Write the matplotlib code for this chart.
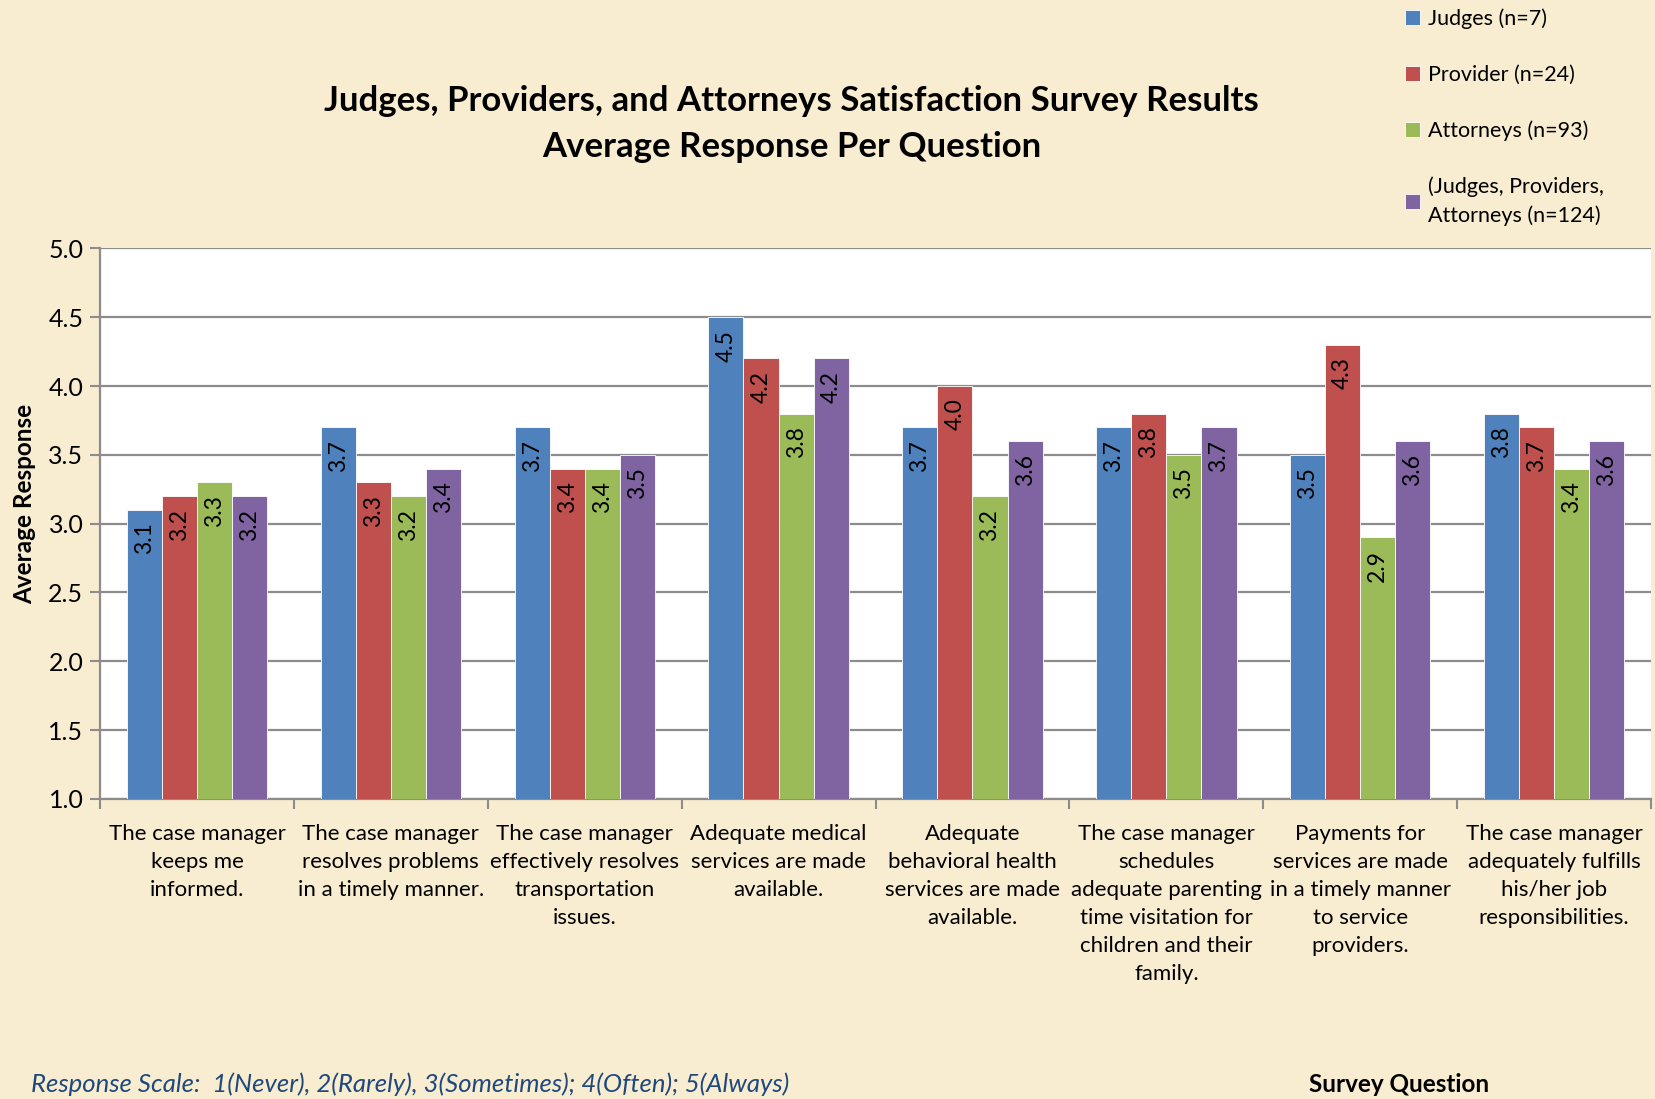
import numpy as np
import matplotlib
matplotlib.use("Agg")
import matplotlib.pyplot as plt

# ===================== data =====================
questions = [
    "The case manager\nkeeps me\ninformed.",
    "The case manager\nresolves problems\nin a timely manner.",
    "The case manager\neffectively resolves\ntransportation\nissues.",
    "Adequate medical\nservices are made\navailable.",
    "Adequate\nbehavioral health\nservices are made\navailable.",
    "The case manager\nschedules\nadequate parenting\ntime visitation for\nchildren and their\nfamily.",
    "Payments for\nservices are made\nin a timely manner\nto service\nproviders.",
    "The case manager\nadequately fulfills\nhis/her job\nresponsibilities.",
]
judges = [3.1, 3.7, 3.7, 4.5, 3.7, 3.7, 3.5, 3.8]
providers = [3.2, 3.3, 3.4, 4.2, 4.0, 3.8, 4.3, 3.7]
attorneys = [3.3, 3.2, 3.4, 3.8, 3.2, 3.5, 2.9, 3.4]
combined = [3.2, 3.4, 3.5, 4.2, 3.6, 3.7, 3.6, 3.6]

series_names = ["Judges (n=7)", "Provider (n=24)", "Attorneys (n=93)",
                "(Judges, Providers,\nAttorneys (n=124)"]
series_vals = [judges, providers, attorneys, combined]
colors = ["#4F81BD", "#C0504D", "#9BBB59", "#8064A2"]

# ===================== figure =====================
plt.rcParams['font.family'] = ['Lato', 'DejaVu Sans']
bg = "#F8EDD0"
fig = plt.figure(figsize=(16.56, 10.99), dpi=100, facecolor=bg)
ax = fig.add_axes([0.0604, 0.273, 0.9366, 0.501])
ax.set_facecolor("white")

x = np.arange(len(questions))
w = 0.181
for i, (name, vals, c) in enumerate(zip(series_names, series_vals, colors)):
    pos = x + (i - 1.5) * w
    ax.bar(pos, np.array(vals) - 1.0, bottom=1.0, width=w, color=c,
           edgecolor="white", linewidth=0.6, label=name, zorder=3)
    for xp, v in zip(pos, vals):
        ax.annotate(f"{v:.1f}", (xp, v), xytext=(0, -9), textcoords="offset points",
                    rotation=90, ha="center", va="top", fontsize=16.5, color="black",
                    zorder=4)

ax.set_ylim(1.0, 5.0)
ax.set_xlim(-0.5, len(questions) - 0.5)
yt = np.arange(1.0, 5.01, 0.5)
ax.set_yticks(yt)
ax.set_yticklabels([f"{t:.1f}" for t in yt], fontsize=18)
ax.yaxis.grid(True, color="#8C8C8C", linewidth=1.6, zorder=0)
ax.set_axisbelow(True)

ax.set_xticks(x)
ax.set_xticklabels(questions, fontsize=16, linespacing=1.5, va="top")
ax.set_xticks(np.arange(-0.5, len(questions), 1.0), minor=True)
ax.tick_params(axis="x", which="major", length=0, pad=18)
ax.tick_params(axis="x", which="minor", length=7, color="#8C8C8C", width=1.5)
ax.tick_params(axis="y", length=7, color="#8C8C8C", width=1.5, pad=5)

for s in ["top", "right"]:
    ax.spines[s].set_visible(False)
for s in ["left", "bottom"]:
    ax.spines[s].set_color("#8C8C8C")
    ax.spines[s].set_linewidth(1.6)

ax.set_ylabel("Average Response", fontsize=17.5, fontweight="bold")
ax.yaxis.set_label_coords(-0.041, 0.536)

# title
fig.text(0.478, 0.908, "Judges, Providers, and Attorneys Satisfaction Survey Results",
         ha="center", va="center", fontsize=25, fontweight="bold")
fig.text(0.478, 0.866, "Average Response Per Question",
         ha="center", va="center", fontsize=25, fontweight="bold")

# legend
leg = fig.legend(loc="upper left", bbox_to_anchor=(0.843, 1.0), frameon=False,
                 fontsize=15.5, handlelength=0.7, handleheight=0.7, handletextpad=0.4,
                 labelspacing=1.65, borderaxespad=0)
for t in leg.get_texts():
    t.set_linespacing(1.5)

# bottom notes
fig.text(0.019, 0.0135, "Response Scale:  1(Never), 2(Rarely), 3(Sometimes); 4(Often); 5(Always)",
         ha="left", va="center", fontsize=18.5, style="italic", color="#1F497D")
fig.text(0.845, 0.0135, "Survey Question", ha="center", va="center",
         fontsize=17.5, fontweight="bold")

fig.savefig("out.png", dpi=100, facecolor=bg)
